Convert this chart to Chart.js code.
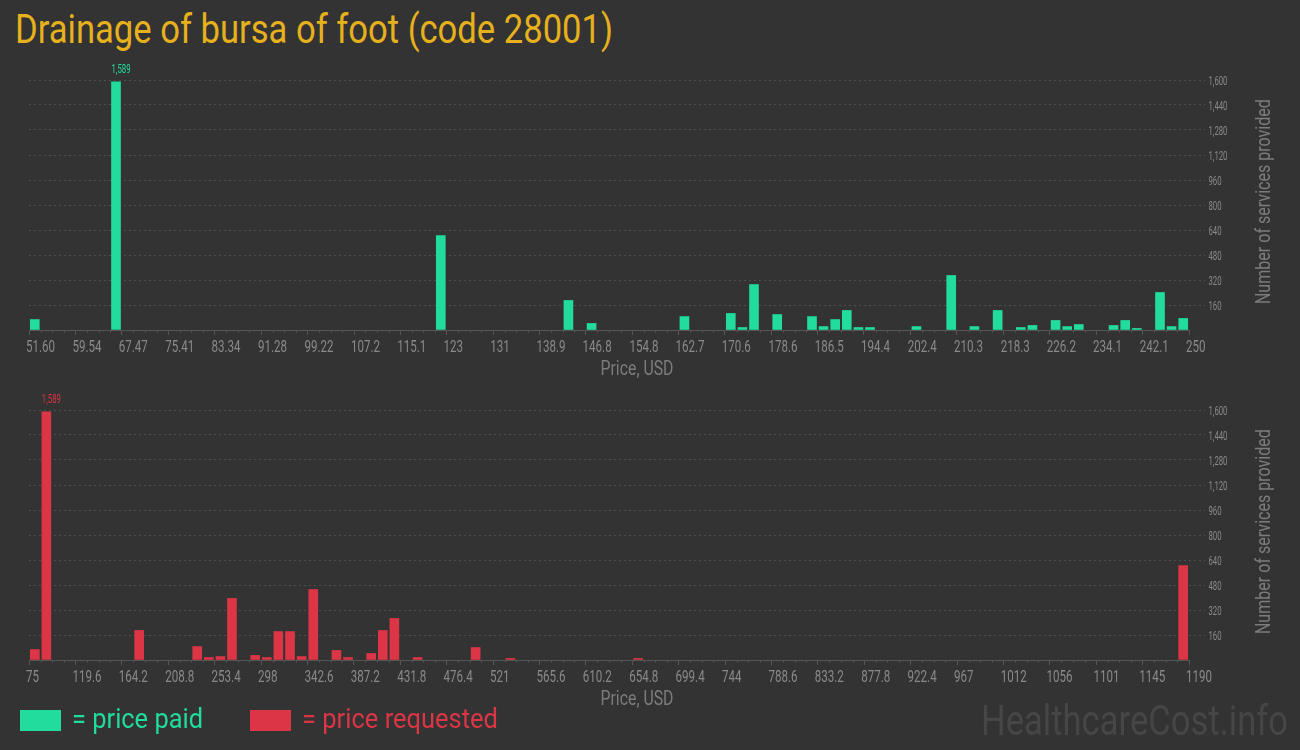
<!DOCTYPE html>
<html lang="en">
<head>
<meta charset="UTF-8">
<title>Drainage of bursa of foot (code 28001)</title>
<script src="https://cdn.jsdelivr.net/npm/chart.js"></script>
<style>
  body { margin: 0; background: #333; width: 1300px; height: 750px; overflow: hidden; position: relative; font-family: Roboto, sans-serif; }
  .txt { position: absolute; white-space: nowrap; line-height: 1; transform-origin: 0 0; }
  .chart { position: absolute; left: 0; width: 1300px; height: 330px; }
  .box { position: absolute; top: 710px; width: 41px; height: 21px; }
</style>
</head>
<body>
<div class="txt" style="left:15px;top:9px;font-size:41px;color:#e6b11c" data-w="598">Drainage of bursa of foot (code 28001)</div>

<div class="chart" style="top:50px"><canvas id="paidChart" width="1300" height="330"></canvas></div>
<div class="chart" style="top:380px"><canvas id="requestedChart" width="1300" height="330"></canvas></div>

<div class="box" style="left:20px;background:#21dc9c"></div>
<div class="txt" style="left:72px;top:705px;font-size:28px;color:#21dc9c" data-w="131">= price paid</div>
<div class="box" style="left:250px;background:#dc3545"></div>
<div class="txt" style="left:302px;top:705px;font-size:28px;color:#dc3545" data-w="196">= price requested</div>
<div class="txt" style="left:981px;top:700px;font-size:42px;color:#464646" data-w="307">HealthcareCost.info</div>

<script>
  // price paid histogram
  const paidTickLabels = ['51.60', '59.54', '67.47', '75.41', '83.34', '91.28', '99.22', '107.2', '115.1', '123', '131',
    '138.9', '146.8', '154.8', '162.7', '170.6', '178.6', '186.5', '194.4', '202.4', '210.3', '218.3', '226.2', '234.1', '242.1', '250']
  const paidPrice = [52.59, 66.48, 122.03, 143.86, 147.82, 163.70, 171.63, 173.62, 175.60, 179.57, 185.52, 187.50, 189.49,
    191.47, 193.46, 195.44, 203.38, 209.33, 213.30, 217.27, 221.23, 223.22, 227.18, 229.17, 231.15, 237.10, 239.09, 241.07,
    245.04, 247.02, 249.01]
  const paidCount = [67, 1589, 605, 189, 42, 86, 106, 16, 291, 99, 86, 22, 67,
    125, 16, 16, 22, 349, 22, 125, 16, 29, 61, 22, 35, 29, 61, 10,
    240, 22, 74]

  // price requested histogram
  const requestedTickLabels = ['75', '119.6', '164.2', '208.8', '253.4', '298', '342.6', '387.2', '431.8', '476.4', '521',
    '565.6', '610.2', '654.8', '699.4', '744', '788.6', '833.2', '877.8', '922.4', '967', '1012', '1056', '1101', '1145', '1190']
  const requestedPrice = [80.6, 91.7, 180.9, 236.7, 247.8, 259.0, 270.1, 292.4, 303.6, 314.7, 325.9, 337.0, 348.2,
    370.5, 381.6, 403.9, 415.1, 426.2, 448.5, 504.3, 537.7, 660.4, 1184.4]
  const requestedCount = [67, 1589, 189, 86, 16, 22, 394, 29, 16, 182, 182, 22, 451,
    61, 16, 42, 189, 266, 16, 80, 10, 10, 605]

  const yMax = 1600
  const yStep = 160

  const GREEN = '#21dc9c'
  const RED = '#dc3545'
  const AXIS = '#555555'
  const GRID = '#4e4e4e'
  const TICK = '#8a8a8a'
  const LABEL = '#7c7c7c'
  const NONE = 'rgba(0,0,0,0)'

  // text drawn squeezed, the picture uses a condensed face
  const squeezed = (ctx, text, x, y, s, align) => {
    ctx.save()
    ctx.textAlign = align
    ctx.translate(x, y)
    ctx.scale(s, 1)
    ctx.fillText(text, 0, 0)
    ctx.restore()
  }
  const fitText = (ctx, text, x, y, w, align) =>
    squeezed(ctx, text, x, y, w / ctx.measureText(text).width, align)

  document.querySelectorAll('[data-w]').forEach(el => {
    const w = el.getBoundingClientRect().width
    el.style.transform = `scaleX(${el.dataset.w / w})`
  })

  const makeChart = (id, tickLabels, prices, counts, color) => {
    const tickValues = tickLabels.map(parseFloat)

    const extras = {
      id: 'extras',
      afterDraw(chart) {
        const { ctx, scales: { x, y } } = chart
        ctx.save()

        // minor ticks, 4 per major interval
        ctx.strokeStyle = AXIS
        ctx.lineWidth = 1
        ctx.beginPath()
        for (let i = 1; i < 100; i++) {
          if (i % 4 === 0) continue
          const px = Math.round(x.left + x.width * i / 100) + 0.5
          ctx.moveTo(px, x.top)
          ctx.lineTo(px, x.top + 2.5)
        }
        ctx.stroke()

        // tick labels
        ctx.fillStyle = TICK
        ctx.textBaseline = 'alphabetic'
        ctx.font = '17px Roboto'
        tickValues.forEach((v, i) => {
          squeezed(ctx, tickLabels[i], x.getPixelForValue(v) - 3, x.top + 21.5, 0.68, 'left')
        })
        ctx.font = '12.5px Roboto'
        for (let v = yStep; v <= yMax; v += yStep) {
          squeezed(ctx, v.toLocaleString('en-US'), y.left + 19.5, y.getPixelForValue(v) + 4.5, 0.62, 'left')
        }

        // value over the tallest bar
        const k = counts.indexOf(Math.max(...counts))
        const bar = chart.getDatasetMeta(0).data[k]
        ctx.fillStyle = color
        ctx.font = '12px Roboto'
        fitText(ctx, counts[k].toLocaleString('en-US'), bar.x - bar.width / 2, bar.y - 9, 19, 'left')

        // axis titles
        ctx.fillStyle = LABEL
        ctx.font = '20px Roboto'
        fitText(ctx, 'Price, USD', 637, 325, 73, 'center')
        ctx.translate(1270, 151.6)
        ctx.rotate(-Math.PI / 2)
        fitText(ctx, 'Number of services provided', 0, 0, 205, 'center')

        ctx.restore()
      }
    }

    return new Chart(document.getElementById(id), {
      type: 'bar',
      data: {
        datasets: [{
          data: prices.map((p, i) => ({ x: p, y: counts[i] })),
          backgroundColor: color,
          borderWidth: 0,
          barThickness: 9
        }]
      },
      options: {
        responsive: false,
        animation: false,
        layout: { padding: { left: 29, top: 30, right: 0, bottom: 0 } },
        plugins: { legend: { display: false }, tooltip: { enabled: false } },
        scales: {
          x: {
            type: 'linear',
            min: tickValues[0],
            max: tickValues[tickValues.length - 1],
            offset: false,
            afterBuildTicks: s => { s.ticks = tickValues.map(v => ({ value: v })) },
            afterFit: s => { s.height = 50 },
            grid: { offset: false, drawOnChartArea: false, drawTicks: true, tickLength: 5, tickColor: AXIS },
            border: { display: true, color: AXIS, width: 1 },
            ticks: { display: false, autoSkip: false, maxRotation: 0 }
          },
          y: {
            position: 'right',
            min: 0,
            max: yMax,
            afterFit: s => { s.width = 111 },
            grid: {
              color: c => c.tick.value === 0 ? NONE : GRID,
              tickColor: c => c.tick.value === 0 ? NONE : GRID,
              tickLength: 16,
              tickBorderDash: [2, 3]
            },
            border: { display: false, dash: [2, 3] },
            ticks: { stepSize: yStep, color: NONE }
          }
        }
      },
      plugins: [extras]
    })
  }

  makeChart('paidChart', paidTickLabels, paidPrice, paidCount, GREEN)
  makeChart('requestedChart', requestedTickLabels, requestedPrice, requestedCount, RED)
</script>
</body>
</html>
